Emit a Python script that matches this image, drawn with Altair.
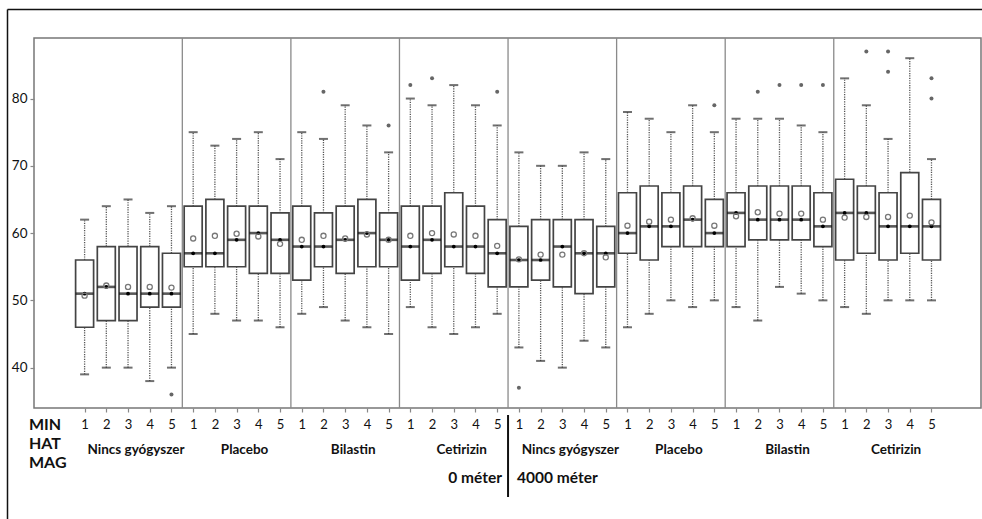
import altair as alt
import pandas as pd

# Box statistics, one value per box: 8 groups x 5 boxes (MIN HAT MAG 1..5)
lo = [39, 40, 40, 38, 40, 45, 48, 47, 47, 46, 48, 49, 47, 46, 45, 49, 46, 45, 46, 48,
      43, 41, 40, 44, 43, 46, 48, 50, 49, 50, 49, 47, 52, 51, 50, 49, 48, 50, 50, 50]
q1 = [46, 47, 47, 49, 49, 55, 55, 55, 54, 54, 53, 55, 54, 55, 55, 53, 54, 55, 54, 52,
      52, 53, 52, 51, 52, 57, 56, 58, 58, 58, 58, 59, 59, 59, 58, 56, 57, 56, 57, 56]
med = [51, 52, 51, 51, 51, 57, 57, 59, 60, 59, 58, 58, 59, 60, 59, 58, 59, 58, 58, 57,
       56, 56, 58, 57, 57, 60, 61, 61, 62, 60, 63, 62, 62, 62, 61, 63, 63, 61, 61, 61]
q3 = [56, 58, 58, 58, 57, 64, 65, 64, 64, 63, 64, 63, 64, 65, 63, 64, 64, 66, 64, 62,
      61, 62, 62, 62, 61, 66, 67, 66, 67, 65, 66, 67, 67, 67, 66, 68, 67, 66, 69, 65]
hi = [62, 64, 65, 63, 64, 75, 73, 74, 75, 71, 75, 74, 79, 76, 72, 80, 79, 82, 79, 76,
      72, 70, 70, 72, 71, 78, 77, 75, 79, 75, 77, 77, 77, 76, 75, 83, 79, 74, 86, 71]
mean = [50.7, 52.2, 52.0, 52.0, 51.9, 59.2, 59.6, 59.9, 59.5, 58.4,
        59.0, 59.6, 59.2, 59.8, 59.0, 59.6, 60.0, 59.8, 59.6, 58.1,
        56.1, 56.8, 56.8, 57.0, 56.4, 61.1, 61.7, 62.0, 62.2, 61.1,
        62.5, 63.1, 62.9, 62.9, 62.0, 62.3, 62.4, 62.4, 62.6, 61.6]

# Outliers: box index and value
out_box = [4, 11, 14, 15, 16, 19, 20, 29, 31, 32, 33, 34, 36, 37, 37, 39, 39]
out_val = [36, 81, 76, 82, 83, 81, 37, 79, 81, 82, 82, 82, 87, 87, 84, 83, 80]

groups = ["Nincs gyógyszer", "Placebo", "Bilastin", "Cetirizin"] * 2
sites = ["0 méter", "4000 méter"]
per_group = 5

FONT = "Lato"
W, H = 947, 370

n = len(med)
box = pd.DataFrame({"i": list(range(n)), "lo": lo, "q1": q1, "med": med,
                    "q3": q3, "hi": hi, "mean": mean})
outl = pd.DataFrame({"i": out_box, "v": out_val})
seps = pd.DataFrame({"i": [g * per_group - 0.5 for g in range(1, len(groups))]})
glabels = pd.DataFrame({"i": [g * per_group + 2 for g in range(len(groups))],
                        "label": groups})
mid = pd.DataFrame({"i": [n / 2 - 0.5]})
one = pd.DataFrame({"k": [0]})

xscale = alt.Scale(domain=[-2.1, 41.05], nice=False, zero=False)
yscale = alt.Scale(domain=[34, 89], nice=False, zero=False)

xaxis = alt.Axis(values=list(range(n)), labelExpr="datum.value % 5 + 1",
                 title=None, grid=False, domain=False, tickColor="#888",
                 tickSize=4, tickWidth=1.2, labelFont=FONT, labelFontSize=13,
                 labelColor="#111", labelPadding=6, labelAngle=0)
yaxis = alt.Axis(values=[40, 50, 60, 70, 80], format="d", title=None,
                 grid=False, domain=False, tickColor="#888", tickSize=4,
                 tickWidth=1.2, labelFont=FONT, labelFontSize=13.5,
                 labelColor="#111", labelPadding=3)


def X(field="i"):
    return alt.X(f"{field}:Q", scale=xscale, axis=xaxis)


def Y(field):
    return alt.Y(f"{field}:Q", scale=yscale, axis=yaxis)


base = alt.Chart(box)

separators = alt.Chart(seps).mark_rule(color="#8a8a8a", strokeWidth=1.3).encode(
    x=X(), y=alt.value(0), y2=alt.value(H))

whisk_lo = base.mark_rule(color="#555", strokeWidth=1.3, strokeDash=[1.2, 1.2]).encode(
    x=X(), y=Y("lo"), y2="q1:Q")
whisk_hi = base.mark_rule(color="#555", strokeWidth=1.3, strokeDash=[1.2, 1.2]).encode(
    x=X(), y=Y("q3"), y2="hi:Q")
cap_lo = base.mark_tick(orient="horizontal", size=9, thickness=2, color="#333").encode(
    x=X(), y=Y("lo"))
cap_hi = base.mark_tick(orient="horizontal", size=9, thickness=2, color="#333").encode(
    x=X(), y=Y("hi"))

boxes = base.mark_bar(size=18, fill="white", stroke="#444", strokeWidth=1.7).encode(
    x=X(), y=Y("q1"), y2="q3:Q")

median = base.mark_tick(orient="horizontal", size=18, thickness=2.6, color="#111").encode(
    x=X(), y=Y("med"))
median_dot = base.mark_point(shape="circle", filled=True, size=14, color="#000",
                             opacity=1).encode(x=X(), y=Y("med"))
means = base.mark_point(shape="circle", filled=False, size=26, color="#777",
                        strokeWidth=1.3, opacity=1).encode(x=X(), y=Y("mean"))
outliers = alt.Chart(outl).mark_circle(size=16, color="#666", opacity=1).encode(
    x=X(), y=Y("v"))

group_text = alt.Chart(glabels).mark_text(
    font=FONT, fontSize=13.5, fontWeight="bold", color="#111", dx=8, baseline="middle"
).encode(x=X(), y=alt.value(412), text="label:N")

row_head = alt.Chart(one).mark_text(
    text="MIN HAT MAG", lineBreak=" ", lineHeight=19, font=FONT, fontSize=16,
    fontWeight="bold", color="#111", align="left", baseline="middle"
).encode(x=alt.value(-5), y=alt.value(386.5))

divider = alt.Chart(mid).mark_rule(color="#111", strokeWidth=2).encode(
    x=X(), y=alt.value(377), y2=alt.value(459))
site_left = alt.Chart(mid).mark_text(
    text=sites[0], font=FONT, fontSize=15.5, fontWeight="bold", color="#111",
    align="right", dx=-6, baseline="middle").encode(x=X(), y=alt.value(440))
site_right = alt.Chart(mid).mark_text(
    text=sites[1], font=FONT, fontSize=15.5, fontWeight="bold", color="#111",
    align="left", dx=9, baseline="middle").encode(x=X(), y=alt.value(440))

# outer frame of the figure (left and top edges)
frame_left = alt.Chart(one).mark_rule(color="#111", strokeWidth=1.5).encode(
    x=alt.value(-26.5), y=alt.value(-28.5), y2=alt.value(482))
frame_top = alt.Chart(one).mark_rule(color="#111", strokeWidth=1.5).encode(
    x=alt.value(-26.5), x2=alt.value(949), y=alt.value(-28.5))

chart = alt.layer(
    separators, whisk_lo, whisk_hi, cap_lo, cap_hi, boxes, median, median_dot,
    means, outliers, group_text, row_head, divider, site_left, site_right,
    frame_left, frame_top
).properties(
    width=W, height=H,
    autosize=alt.AutoSizeParams(type="none"),
    padding={"left": 34, "top": 38, "right": 1, "bottom": 111},
    background="white",
).configure_view(stroke="#777", strokeWidth=1.5)

chart.save("out.html", embed_options={"renderer": "svg", "actions": False})
